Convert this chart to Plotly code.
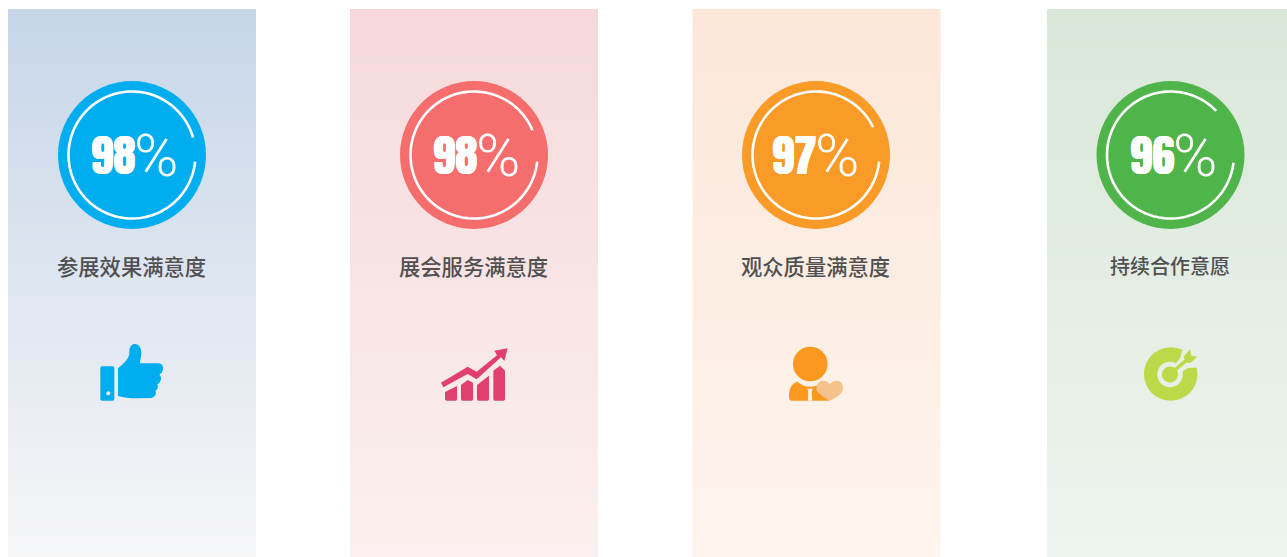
import re
import numpy as np
import plotly.graph_objects as go

labels = ["参展效果满意度", "展会服务满意度", "观众质量满意度", "持续合作意愿"]
label_sizes = [21.3, 21.3, 21.3, 20]
percents = [98, 98, 97, 96]
disc_colors = ["#00aeef", "#f66d6d", "#fa9b28", "#4fb54a"]
grad_top = ["#c6d6e9", "#f6d9db", "#fce7d9", "#d9e7d9"]
grad_bottom = ["#f6f6f7", "#fbf0ef", "#fdf4ed", "#eef4ee"]
panel_left = [8, 350, 692.5, 1047]
disc_center = [132, 474, 816, 1170.5]
text_split = [4, 4, 1, 4]
arc_gap_top_deg = [16, 23, 26, 44]
arc_gap_bottom_deg = [6, 6, 6, 7]

PANEL_W, PANEL_TOP, PANEL_BOTTOM = 248, 9, 557
DISC_Y, DISC_R, ARC_R = 155, 74, 63.5
ROWS = 80


def hex2rgb(h):
    return [int(h[i:i + 2], 16) for i in (1, 3, 5)]


def bg_at(i, y):
    t = (y - PANEL_TOP) / (PANEL_BOTTOM - PANEL_TOP)
    a, b = hex2rgb(grad_top[i]), hex2rgb(grad_bottom[i])
    return "rgb(%d,%d,%d)" % tuple(round(p + (q - p) * t) for p, q in zip(a, b))


def place(path, ox, oy):
    """Icon paths are written on a 3x grid relative to an origin."""
    toks = re.findall(r"[A-Za-z]|-?[\d.]+", path)
    out, is_x = [], True
    for t in toks:
        if t.isalpha():
            out.append(t)
            is_x = True
        else:
            out.append(f"{(ox if is_x else oy) + float(t) / 3:.2f}")
            is_x = not is_x
    return " ".join(out)


def circ(cx, cy, r):
    a = np.linspace(0, 2 * np.pi, 73)
    return "M" + " L".join(f"{cx + r * np.cos(t):.1f},{cy + r * np.sin(t):.1f}" for t in a) + " Z"


fig = go.Figure()
shapes, annotations = [], []


def add(path, fill):
    shapes.append(dict(type="path", path=path, fillcolor=fill, line_width=0, xref="x", yref="y"))


for i in range(4):
    rows = np.linspace(PANEL_TOP, PANEL_BOTTOM, ROWS + 1)
    fig.add_trace(go.Heatmap(
        x=[panel_left[i], panel_left[i] + PANEL_W], y=rows,
        z=[[k / (ROWS - 1)] for k in range(ROWS)],
        colorscale=[[0, grad_top[i]], [1, grad_bottom[i]]],
        zmin=0, zmax=1, showscale=False, hoverinfo="skip"))
    cx = disc_center[i]
    shapes.append(dict(type="circle", x0=cx - DISC_R, x1=cx + DISC_R, y0=DISC_Y - DISC_R, y1=DISC_Y + DISC_R,
                       fillcolor=disc_colors[i], line_width=0, xref="x", yref="y"))
    ang = np.radians(np.linspace(arc_gap_bottom_deg[i], 360 - arc_gap_top_deg[i], 120))
    arc = "M" + " L".join(f"{cx + ARC_R * np.cos(t):.2f},{DISC_Y + ARC_R * np.sin(t):.2f}" for t in ang)
    shapes.append(dict(type="path", path=arc, line=dict(color="white", width=2.6), xref="x", yref="y"))
    split = cx + text_split[i]
    annotations.append(dict(x=split, y=154.5, text=str(percents[i]), showarrow=False, xanchor="right", yanchor="middle",
                            xshift=1,
                            font=dict(family="Anton, Impact, 'Liberation Sans', sans-serif", size=45, color="white",
                                      shadow="0.3px 0 0 white, -0.3px 0 0 white")))
    annotations.append(dict(x=split, y=155, text="%", showarrow=False, xanchor="left", yanchor="middle", xshift=-4,
                            font=dict(family="Roboto", size=60, color="white", weight=300)))
    annotations.append(dict(x=cx, y=265.5, text=labels[i], showarrow=False, xanchor="center", yanchor="middle",
                            xshift=-0.8,
                            font=dict(family="Noto Sans CJK SC", size=label_sizes[i], color="#505050", weight=500)))

# thumb icon
c = "#00aeef"
add(place("M66,109 L98,109 Q103,109 103,114 L103,207 Q103,212 98,212 L66,212 Q61,212 61,207 L61,114 Q61,109 66,109 Z", 80, 330), c)
add(circ(108.3, 393.3, 2), bg_at(0, 393))
add(place("M114,115 C130,100 150,85 148,65 C148,50 155,42 165,42 C178,42 184,55 184,70 C184,82 180,90 180,100 "
          "L235,100 C248,100 252,112 248,122 C245,130 240,132 238,134 C245,140 244,150 240,155 C238,160 234,162 232,162 "
          "C236,170 232,180 226,182 C230,190 226,200 215,204 L170,205 C150,205 130,203 114,198 Z", 80, 330), c)

# growth icon
c = "#e03f6f"
for p in ["M60,186 L96,168 L96,207 Q96,212 91,212 L65,212 Q60,212 60,207 Z",
          "M108,165 L128,150 L144,158 L144,207 Q144,212 139,212 L113,212 Q108,212 108,207 Z",
          "M156,165 L192,137 L192,207 Q192,212 187,212 L161,212 Q156,212 156,207 Z",
          "M205,122 L225,107 L240,122 L240,207 Q240,212 235,212 L210,212 Q205,212 205,207 Z",
          "M48,158 L128,110 L155,125 L216,76 L208,62 L248,55 L238,93 L228,82 L155,148 L128,132 L55,172 Z"]:
    add(place(p, 425, 330), c)

# person icon
c = "#fa9820"
add(circ(810.3, 364, 17.3), c)
add(place("M57,200 C57,178 64,160 82,155 C95,165 105,170 120,170 C135,170 150,165 160,158 C170,165 178,180 178,212 "
          "L66,212 Q57,212 57,200 Z", 770, 330), c)
add(place("M114,212 L115,186 L112,176 L128,176 L125,186 L127,212 Z", 770, 330), bg_at(2, 395))
add(place("M179,212 C150,195 139,185 139,175 C139,160 150,152 160,152 C170,152 176,158 179,163 "
          "C183,158 190,152 200,152 C212,152 219,162 219,173 C219,188 205,200 179,212 Z", 770, 330), "#f6c28b")

# target icon
c, b = "#bcd949", bg_at(3, 375)
add(circ(1170.7, 374, 26.7), c)
add(place("M186,62 L240,45 L240,112 L205,114 L180,128 L162,108 L180,85 Z", 1120, 330), b)
add(circ(1170, 374.5, 12.7), b)
add(circ(1170, 374.5, 8), c)
add(place("M148,128 L198,84 L206,92 L154,136 Z", 1120, 330), c)
add(place("M190,80 L210,58 L214,77 L232,80 L212,98 L200,98 Z", 1120, 330), c)

fig.update_layout(
    width=1287, height=557, margin=dict(l=0, r=0, t=0, b=0, pad=0),
    paper_bgcolor="white", plot_bgcolor="white", showlegend=False,
    xaxis=dict(range=[0, 1287], visible=False, fixedrange=True),
    yaxis=dict(range=[557, 0], visible=False, fixedrange=True),
    shapes=shapes, annotations=annotations)
fig.write_html("out.html", config=dict(displayModeBar=False),
               post_script="document.body.style.margin='0';document.body.style.overflow='hidden';")
